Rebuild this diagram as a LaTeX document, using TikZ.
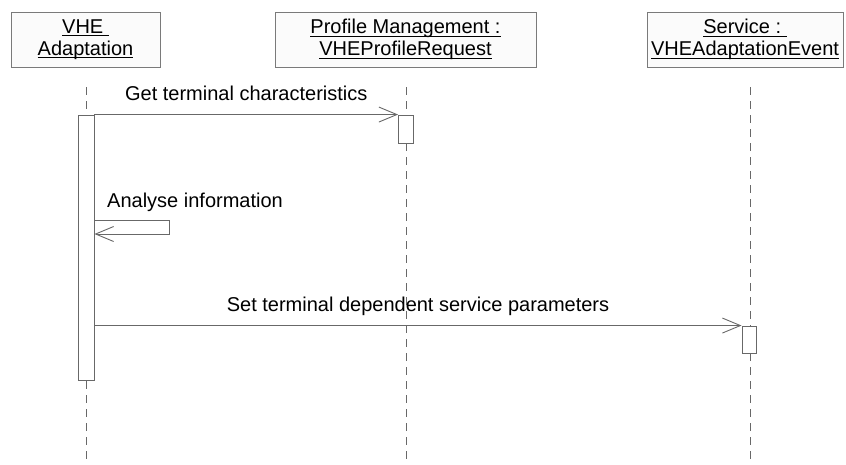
\documentclass[tikz,border=0pt]{standalone}
\usepackage{fontspec}
\setmainfont{Liberation Sans}
\usetikzlibrary{arrows.meta,calc}
\definecolor{linegray}{HTML}{686868}
\definecolor{boxgray}{HTML}{7A7A7A}
\definecolor{boxfill}{HTML}{FBFBFB}
% underline set at a fixed depth below the baseline, through descenders
\newcommand\objname[1]{\setbox0\hbox{#1}\rlap{\rule[-3pt]{\wd0}{0.9pt}}\box0}
\begin{document}
\begin{tikzpicture}[x=1pt,y=-1pt,
  font=\fontsize{20pt}{22pt}\selectfont,
  objbox/.style={draw=boxgray, fill=boxfill, line width=0.9pt, align=center, inner sep=0pt},
  lifeline/.style={draw=linegray, line width=0.9pt, dash pattern=on 8pt off 6pt},
  actbox/.style={draw=linegray, fill=white, line width=0.9pt, inner sep=0pt},
  msg/.style={draw=linegray, line width=0.9pt, -{Straight Barb[length=18pt,width=15pt,line width=0.9pt]}},
  lbl/.style={inner sep=0pt, anchor=base}]
  \useasboundingbox (0,0) rectangle (846,464);

  % object boxes
  \node[objbox, minimum width=149pt, minimum height=55pt] (vhe) at (85.5,39.5)
    {\objname{VHE~}\\\objname{Adaptation}};
  \node[objbox, minimum width=261pt, minimum height=55pt] (prof) at (405.5,39.5)
    {\objname{Profile Management :}\\\objname{VHEProfileRequest}};
  \node[objbox, minimum width=196pt, minimum height=55pt] (serv) at (745,39.5)
    {\objname{Service :~}\\\objname{VHEAdaptationEvent}};

  % lifelines
  \coordinate (t1) at (86,87);  \coordinate (b1) at (86,464);
  \coordinate (t2) at (406,87); \coordinate (b2) at (406,464);
  \coordinate (t3) at (750,87); \coordinate (b3) at (750,464);
  \draw[lifeline] (t1) -- (b1);
  \draw[lifeline] (t2) -- (b2);
  \draw[lifeline] (t3) -- (b3);

  % activation bars
  \node[actbox, minimum width=16pt, minimum height=265pt] (act1) at (86,247.5) {};
  \node[actbox, minimum width=15pt, minimum height=28pt] (act2) at (406,129) {};
  \node[actbox, minimum width=14pt, minimum height=27pt] (act3) at (749,339.5) {};

  % Get terminal characteristics
  \draw[msg] (act1.north east) -- (act2.north west);
  \node[lbl] (m1) at ($(act1.north east)!0.5!(act2.north west)+(0,-14)$)
    {Get terminal characteristics};

  % Analyse information (self call)
  \coordinate (s1) at (act1.east |- 0,220);
  \coordinate (s2) at (169,220);
  \coordinate (s3) at (169,234);
  \coordinate (s4) at (act1.east |- 0,234);
  \draw[msg] (s1) -- (s2) -- (s3) -- (s4);
  \node[lbl, anchor=base west] (m2) at (107,207) {Analyse information};

  % Set terminal dependent service parameters
  \coordinate (s5) at (act1.east |- act3.north);
  \draw[msg] (s5) -- (act3.north west);
  \node[lbl] (m3) at ($(s5)!0.5!(act3.north west)+(0,-14)$)
    {Set terminal dependent service parameters};
\end{tikzpicture}
\end{document}
